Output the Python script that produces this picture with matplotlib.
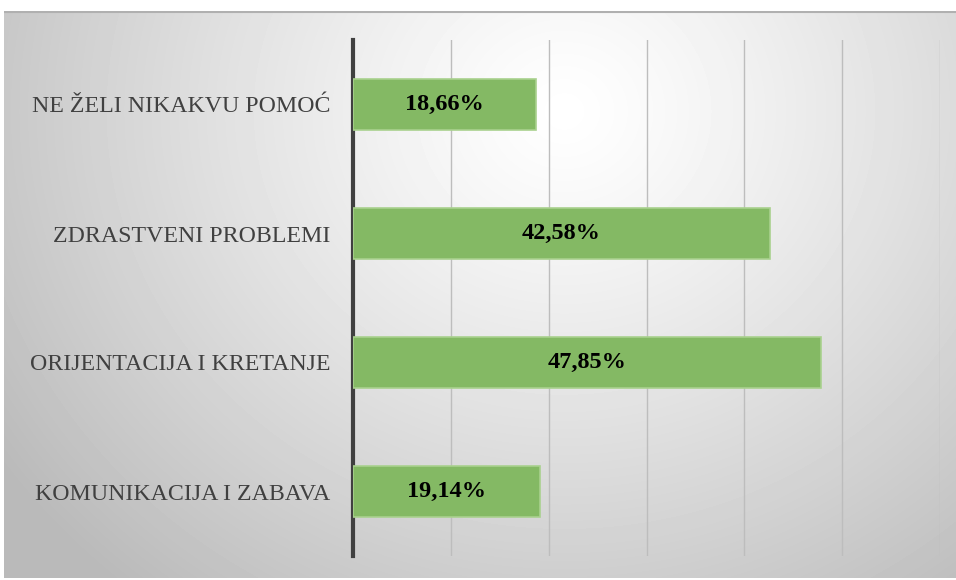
import matplotlib.pyplot as plt
import numpy as np

kategorije = ['KOMUNIKACIJA I ZABAVA', 'ORIJENTACIJA I KRETANJE', 'ZDRASTVENI PROBLEMI', 'NE ŽELI NIKAKVU POMOĆ']
postotci = [19.14, 47.85, 42.58, 18.66]
oznake = ['19,14%', '47,85%', '42,58%', '18,66%']

plt.rcParams['font.family'] = ['Liberation Serif', 'DejaVu Serif']

fig = plt.figure(figsize=(9.56, 5.8), dpi=100)

# radijalni gradijent u pozadini
bg = fig.add_axes([4 / 956, 2 / 580, 952 / 956, 567 / 580])
yy, xx = np.mgrid[0:567, 0:952]
d = np.sqrt(((xx - 560) / 680.0) ** 2 + ((yy - 100) / 620.0) ** 2)
siva = 1.0 - 0.27 * np.clip(d, 0, 1) ** 1.2
bg.imshow(siva, cmap='gray', vmin=0, vmax=1, aspect='auto', interpolation='bilinear')
bg.axhline(0, color='#b0b0b0', lw=1.5)
bg.set_axis_off()

ax = fig.add_axes([353 / 956, 24 / 580, 587 / 956, 516 / 580])
ax.patch.set_alpha(0)
y = np.arange(len(kategorije))
bars = ax.barh(y, postotci, height=0.39, color='#84b964', edgecolor='#a9d18e', linewidth=1.2, zorder=3)
for b, t in zip(bars, oznake):
    ax.text(b.get_width() / 2, b.get_y() + b.get_height() / 2, t, ha='center', va='center',
            fontsize=17.5, fontweight='bold', color='black', zorder=4)

ax.set_xlim(0, 60)
ax.set_ylim(-0.5, len(kategorije) - 0.5)
ax.set_xticks(np.arange(0, 61, 10))
ax.set_xticklabels([])
ax.tick_params(axis='x', length=0)
ax.grid(axis='x', color='#bdbdbd', lw=1, zorder=0)
ax.set_yticks(y)
ax.set_yticklabels(kategorije, fontsize=17.2, color='#404040')
ax.tick_params(axis='y', length=0, pad=16.5)
for s in ['top', 'right', 'bottom']:
    ax.spines[s].set_visible(False)
ax.spines['left'].set_color('#404040')
ax.spines['left'].set_linewidth(3)

fig.savefig('out.png', dpi=100)
